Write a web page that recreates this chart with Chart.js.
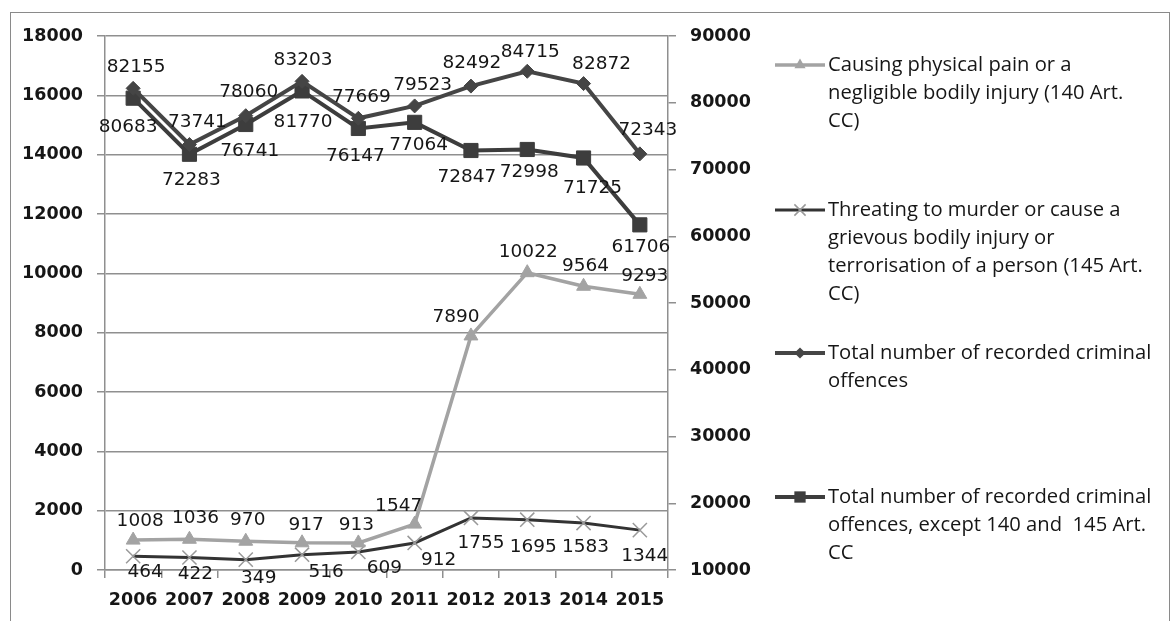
<!DOCTYPE html>
<html>
<head>
<meta charset="utf-8">
<script src="https://cdn.jsdelivr.net/npm/chart.js@4/dist/chart.umd.min.js"></script>
<style>
  html, body { margin: 0; padding: 0; background: #fff; overflow: hidden; }
  #wrap { position: relative; width: 1171px; height: 621px; }
  #frame { position: absolute; left: 10px; top: 12px; width: 1160px; height: 700px; border: 1px solid #8a8a8a; box-sizing: border-box; pointer-events: none; }
  canvas { position: absolute; left: 0; top: 0; }
</style>
</head>
<body>
<div id="wrap">
  <canvas id="myChart" width="1171" height="621"></canvas>
  <div id="frame"></div>
</div>
<script>
// data
const years = ["2006", "2007", "2008", "2009", "2010", "2011", "2012", "2013", "2014", "2015"];
const physicalPain = [1008, 1036, 970, 917, 913, 1547, 7890, 10022, 9564, 9293];
const threats = [464, 422, 349, 516, 609, 912, 1755, 1695, 1583, 1344];
const totalOffences = [82155, 73741, 78060, 83203, 77669, 79523, 82492, 84715, 82872, 72343];
const totalExcept = [80683, 72283, 76741, 81770, 76147, 77064, 72847, 72998, 71725, 61706];

const painName = ["Causing physical pain or a", "negligible bodily injury (140 Art.", "CC)"];
const threatName = ["Threating to murder or cause a", "grievous bodily injury or", "terrorisation of a person (145 Art.", "CC)"];
const totalName = ["Total number of recorded criminal", "offences"];
const exceptName = ["Total number of recorded criminal", "offences, except 140 and  145 Art.", "CC"];

const leftMin = 0, leftMax = 18000, leftStep = 2000;
const rightMin = 10000, rightMax = 90000, rightStep = 10000;

const tickFont = { family: "'DejaVu Sans', sans-serif", size: 17.5, weight: "bold" };
const labelFont = "18.5px 'DejaVu Sans', sans-serif";
const legendFont = "20.2px 'Open Sans', sans-serif";
const textColor = "#161616";
const gridColor = "#8f8f8f";

// draw a marker by hand, used for the legend
function drawMarker(ctx, style, x, y, r, fill, stroke, lw) {
  ctx.save();
  ctx.fillStyle = fill;
  ctx.strokeStyle = stroke;
  ctx.lineWidth = lw;
  ctx.beginPath();
  if (style === "triangle") {
    ctx.moveTo(x, y - r);
    ctx.lineTo(x + r * 0.87, y + r * 0.5);
    ctx.lineTo(x - r * 0.87, y + r * 0.5);
    ctx.closePath();
    ctx.fill();
  } else if (style === "crossRot") {
    let s = r * 0.7;
    ctx.moveTo(x - s, y - s); ctx.lineTo(x + s, y + s);
    ctx.moveTo(x + s, y - s); ctx.lineTo(x - s, y + s);
    ctx.stroke();
  } else if (style === "rectRot") {
    ctx.moveTo(x, y - r); ctx.lineTo(x + r, y); ctx.lineTo(x, y + r); ctx.lineTo(x - r, y);
    ctx.closePath();
    ctx.fill();
  } else {
    let s = r * 0.707;
    ctx.rect(x - s, y - s, 2 * s, 2 * s);
    ctx.fill();
  }
  ctx.restore();
}

// value labels next to each point
const pointLabels = {
  id: "pointLabels",
  afterDatasetsDraw(chart) {
    const ctx = chart.ctx;
    ctx.save();
    ctx.font = labelFont;
    ctx.fillStyle = textColor;
    ctx.textAlign = "center";
    ctx.textBaseline = "middle";
    chart.data.datasets.forEach((ds, i) => {
      const meta = chart.getDatasetMeta(i);
      meta.data.forEach((pt, j) => {
        const off = ds.labelOffsets[j];
        ctx.fillText(String(ds.data[j]), pt.x + off[0], pt.y + off[1]);
      });
    });
    ctx.restore();
  }
};

// legend on the right with wrapped names
const sideLegend = {
  id: "sideLegend",
  afterDraw(chart) {
    const ctx = chart.ctx;
    const tops = [65, 210, 353, 497];
    ctx.save();
    ctx.font = legendFont;
    ctx.fillStyle = textColor;
    ctx.textBaseline = "middle";
    ctx.textAlign = "left";
    chart.data.datasets.forEach((ds, i) => {
      const y = tops[i];
      ctx.strokeStyle = ds.borderColor;
      ctx.lineWidth = ds.borderWidth;
      ctx.beginPath();
      ctx.moveTo(775, y);
      ctx.lineTo(825, y);
      ctx.stroke();
      drawMarker(ctx, ds.pointStyle, 800, y, ds.pointRadius * 0.8, ds.pointBackgroundColor, ds.pointBorderColor, ds.pointBorderWidth);
      ds.label.forEach((line, k) => {
        ctx.fillText(line, 828, y + k * 28);
      });
    });
    ctx.restore();
  }
};

const plainNumber = (v) => String(v);

const ctx = document.getElementById("myChart").getContext("2d");
const chart = new Chart(ctx, {
  type: "line",
  data: {
    labels: years,
    datasets: [
      {
        label: painName,
        data: physicalPain,
        yAxisID: "y",
        borderColor: "#a3a3a3",
        borderWidth: 3.5,
        pointStyle: "triangle",
        pointRadius: 8,
        pointBackgroundColor: "#a3a3a3",
        pointBorderColor: "#a3a3a3",
        pointBorderWidth: 1,
        labelOffsets: [[7, -19], [6, -21], [2, -21], [4, -18], [-2, -18], [-16, -18], [-15, -19], [1, -20], [2, -20], [5, -18]]
      },
      {
        label: threatName,
        data: threats,
        yAxisID: "y",
        borderColor: "#333333",
        borderWidth: 3,
        pointStyle: "crossRot",
        pointRadius: 10,
        pointBackgroundColor: "#999999",
        pointBorderColor: "#999999",
        pointBorderWidth: 1.5,
        labelOffsets: [[12, 16], [6, 17], [13, 19], [24, 17], [26, 16], [24, 17], [10, 25], [6, 27], [2, 24], [5, 26]]
      },
      {
        label: totalName,
        data: totalOffences,
        yAxisID: "y1",
        borderColor: "#454545",
        borderWidth: 4,
        pointStyle: "rectRot",
        pointRadius: 7,
        pointBackgroundColor: "#454545",
        pointBorderColor: "#454545",
        pointBorderWidth: 1,
        labelOffsets: [[3, -21], [8, -22], [3, -24], [1, -21], [3, -21], [8, -21], [1, -23], [3, -19], [18, -19], [8, -24]]
      },
      {
        label: exceptName,
        data: totalExcept,
        yAxisID: "y1",
        borderColor: "#3d3d3d",
        borderWidth: 4,
        pointStyle: "rect",
        pointRadius: 10,
        pointBackgroundColor: "#3d3d3d",
        pointBorderColor: "#3d3d3d",
        pointBorderWidth: 1,
        labelOffsets: [[-5, 29], [2, 26], [4, 27], [1, 31], [-3, 28], [4, 23], [-4, 27], [2, 23], [9, 30], [1, 22]]
      }
    ]
  },
  options: {
    responsive: false,
    animation: false,
    events: [],
    layout: { padding: { left: 10, top: 36, right: 403, bottom: 10 } },
    elements: { line: { tension: 0 } },
    plugins: {
      legend: { display: false },
      tooltip: { enabled: false }
    },
    scales: {
      x: {
        offset: true,
        grid: { offset: true, drawOnChartArea: false, drawTicks: true, tickLength: 8, color: gridColor, lineWidth: 1.5 },
        border: { display: true, color: gridColor, width: 1.5 },
        ticks: { color: textColor, font: tickFont, padding: 12, maxRotation: 0, autoSkip: false },
        afterFit(scale) { scale.height = 41; }
      },
      y: {
        position: "left",
        min: leftMin,
        max: leftMax,
        ticks: { stepSize: leftStep, color: textColor, font: tickFont, padding: 14, callback: plainNumber },
        grid: { color: gridColor, lineWidth: 1.5, tickLength: 8 },
        border: { display: true, color: gridColor, width: 1.5 },
        afterFit(scale) { scale.width = 95; }
      },
      y1: {
        position: "right",
        min: rightMin,
        max: rightMax,
        ticks: { stepSize: rightStep, color: textColor, font: tickFont, padding: 14, callback: plainNumber },
        grid: { drawOnChartArea: false, color: gridColor, lineWidth: 1.5, tickLength: 8 },
        border: { display: true, color: gridColor, width: 1.5 },
        afterFit(scale) { scale.width = 100; }
      }
    }
  },
  plugins: [pointLabels, sideLegend]
});
</script>
</body>
</html>
